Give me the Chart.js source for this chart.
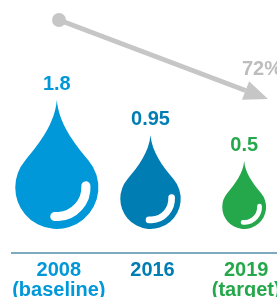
<html><head><title>Water use drops</title>
<style>
    body {
        margin: 0;
        background: #fff;
        overflow: hidden;
        font-family: "Liberation Sans", Arial, sans-serif;
    }
    .wrap {
        position: absolute;
        left: 0;
        top: 0;
        width: 296px;
        height: 307px;
    }
</style>
<script src="https://cdn.jsdelivr.net/npm/chart.js"></script>
</head>
<body>
<div class="wrap"><canvas id="drops"></canvas></div>
<script>
// data
const years = [['2008', '(baseline)'], ['2016'], ['2019', '(target)']];
const values = [1.8, 0.95, 0.5];
const valueText = ['1.8', '0.95', '0.5'];
const dropColors = ['#0098d8', '#007db3', '#25a84b'];
const reduction = '72%';

const FONT = '"Liberation Sans", Arial, sans-serif';

// draw a water drop: tip up, round bottom sitting on "bottom"
function drawDrop(ctx, cx, bottom, r, color) {
    const cy = bottom - r;
    const tipY = cy - 2.1 * r;
    const a = 40 * Math.PI / 180;
    const px = Math.cos(a) * r, py = Math.sin(a) * r;
    ctx.beginPath();
    ctx.moveTo(cx, tipY);
    ctx.bezierCurveTo(cx + 0.05 * r, cy - 1.55 * r, cx + 0.38 * r, cy - 1.1 * r, cx + px, cy - py);
    ctx.arc(cx, cy, r, -a, Math.PI + a);
    ctx.bezierCurveTo(cx - 0.38 * r, cy - 1.1 * r, cx - 0.05 * r, cy - 1.55 * r, cx, tipY);
    ctx.closePath();
    ctx.fillStyle = color;
    ctx.fill();
    // highlight
    ctx.beginPath();
    ctx.arc(cx, cy, 0.7 * r, -3 * Math.PI / 180, 94 * Math.PI / 180);
    ctx.strokeStyle = '#fff';
    ctx.lineWidth = 0.22 * r;
    ctx.lineCap = 'round';
    ctx.stroke();
    return tipY;
}

const dropPlugin = {
    id: 'drops',
    afterDatasetsDraw(chart) {
        const ctx = chart.ctx;
        const meta = chart.getDatasetMeta(0);
        const bottom = chart.chartArea.bottom - 24;
        ctx.save();
        meta.data.forEach((bar, i) => {
            const r = 31 * Math.sqrt(values[i]);
            const tip = drawDrop(ctx, bar.x - 2, bottom, r, dropColors[i]);
            ctx.fillStyle = dropColors[i];
            ctx.font = 'bold 20px ' + FONT;
            ctx.textAlign = 'center';
            ctx.textBaseline = 'alphabetic';
            ctx.fillText(valueText[i], bar.x - 2, tip - 10);
        });

        // trend arrow
        const x0 = 59, y0 = 20, x1 = 268, y1 = 99;
        const len = Math.hypot(x1 - x0, y1 - y0);
        const ux = (x1 - x0) / len, uy = (y1 - y0) / len;
        const head = 24, half = 10;
        ctx.strokeStyle = '#c6c6c6';
        ctx.fillStyle = '#c6c6c6';
        ctx.lineWidth = 5;
        ctx.lineCap = 'butt';
        ctx.beginPath();
        ctx.moveTo(x0, y0);
        ctx.lineTo(x1 - ux * head, y1 - uy * head);
        ctx.stroke();
        ctx.beginPath();
        ctx.arc(x0, y0, 7, 0, Math.PI * 2);
        ctx.fill();
        ctx.beginPath();
        ctx.moveTo(x1, y1);
        ctx.lineTo(x1 - ux * head - uy * half, y1 - uy * head + ux * half);
        ctx.lineTo(x1 - ux * head + uy * half, y1 - uy * head - ux * half);
        ctx.closePath();
        ctx.fill();

        ctx.fillStyle = '#bdbdbd';
        ctx.font = 'bold 20px ' + FONT;
        ctx.textAlign = 'left';
        ctx.textBaseline = 'alphabetic';
        ctx.fillText(reduction, 242, 75);
        ctx.restore();
    }
};

new Chart(document.getElementById('drops'), {
    type: 'bar',
    data: {
        labels: years,
        datasets: [{
            data: values,
            backgroundColor: 'rgba(0,0,0,0)'
        }]
    },
    options: {
        responsive: true,
        maintainAspectRatio: false,
        animation: false,
        layout: { padding: { left: 12, right: 3, top: 10, bottom: 0 } },
        plugins: {
            legend: { display: false },
            tooltip: { enabled: false }
        },
        scales: {
            x: {
                grid: { display: false, drawTicks: false },
                border: { display: true, color: '#7eaabf', width: 2 },
                ticks: {
                    autoSkip: false,
                    maxRotation: 0,
                    padding: 7,
                    color: ctx => dropColors[ctx.index],
                    font: { family: FONT, size: 20, weight: 'bold', lineHeight: 1.0 }
                }
            },
            y: {
                display: false,
                min: 0,
                max: 2
            }
        }
    },
    plugins: [dropPlugin]
});
</script>
</body></html>
